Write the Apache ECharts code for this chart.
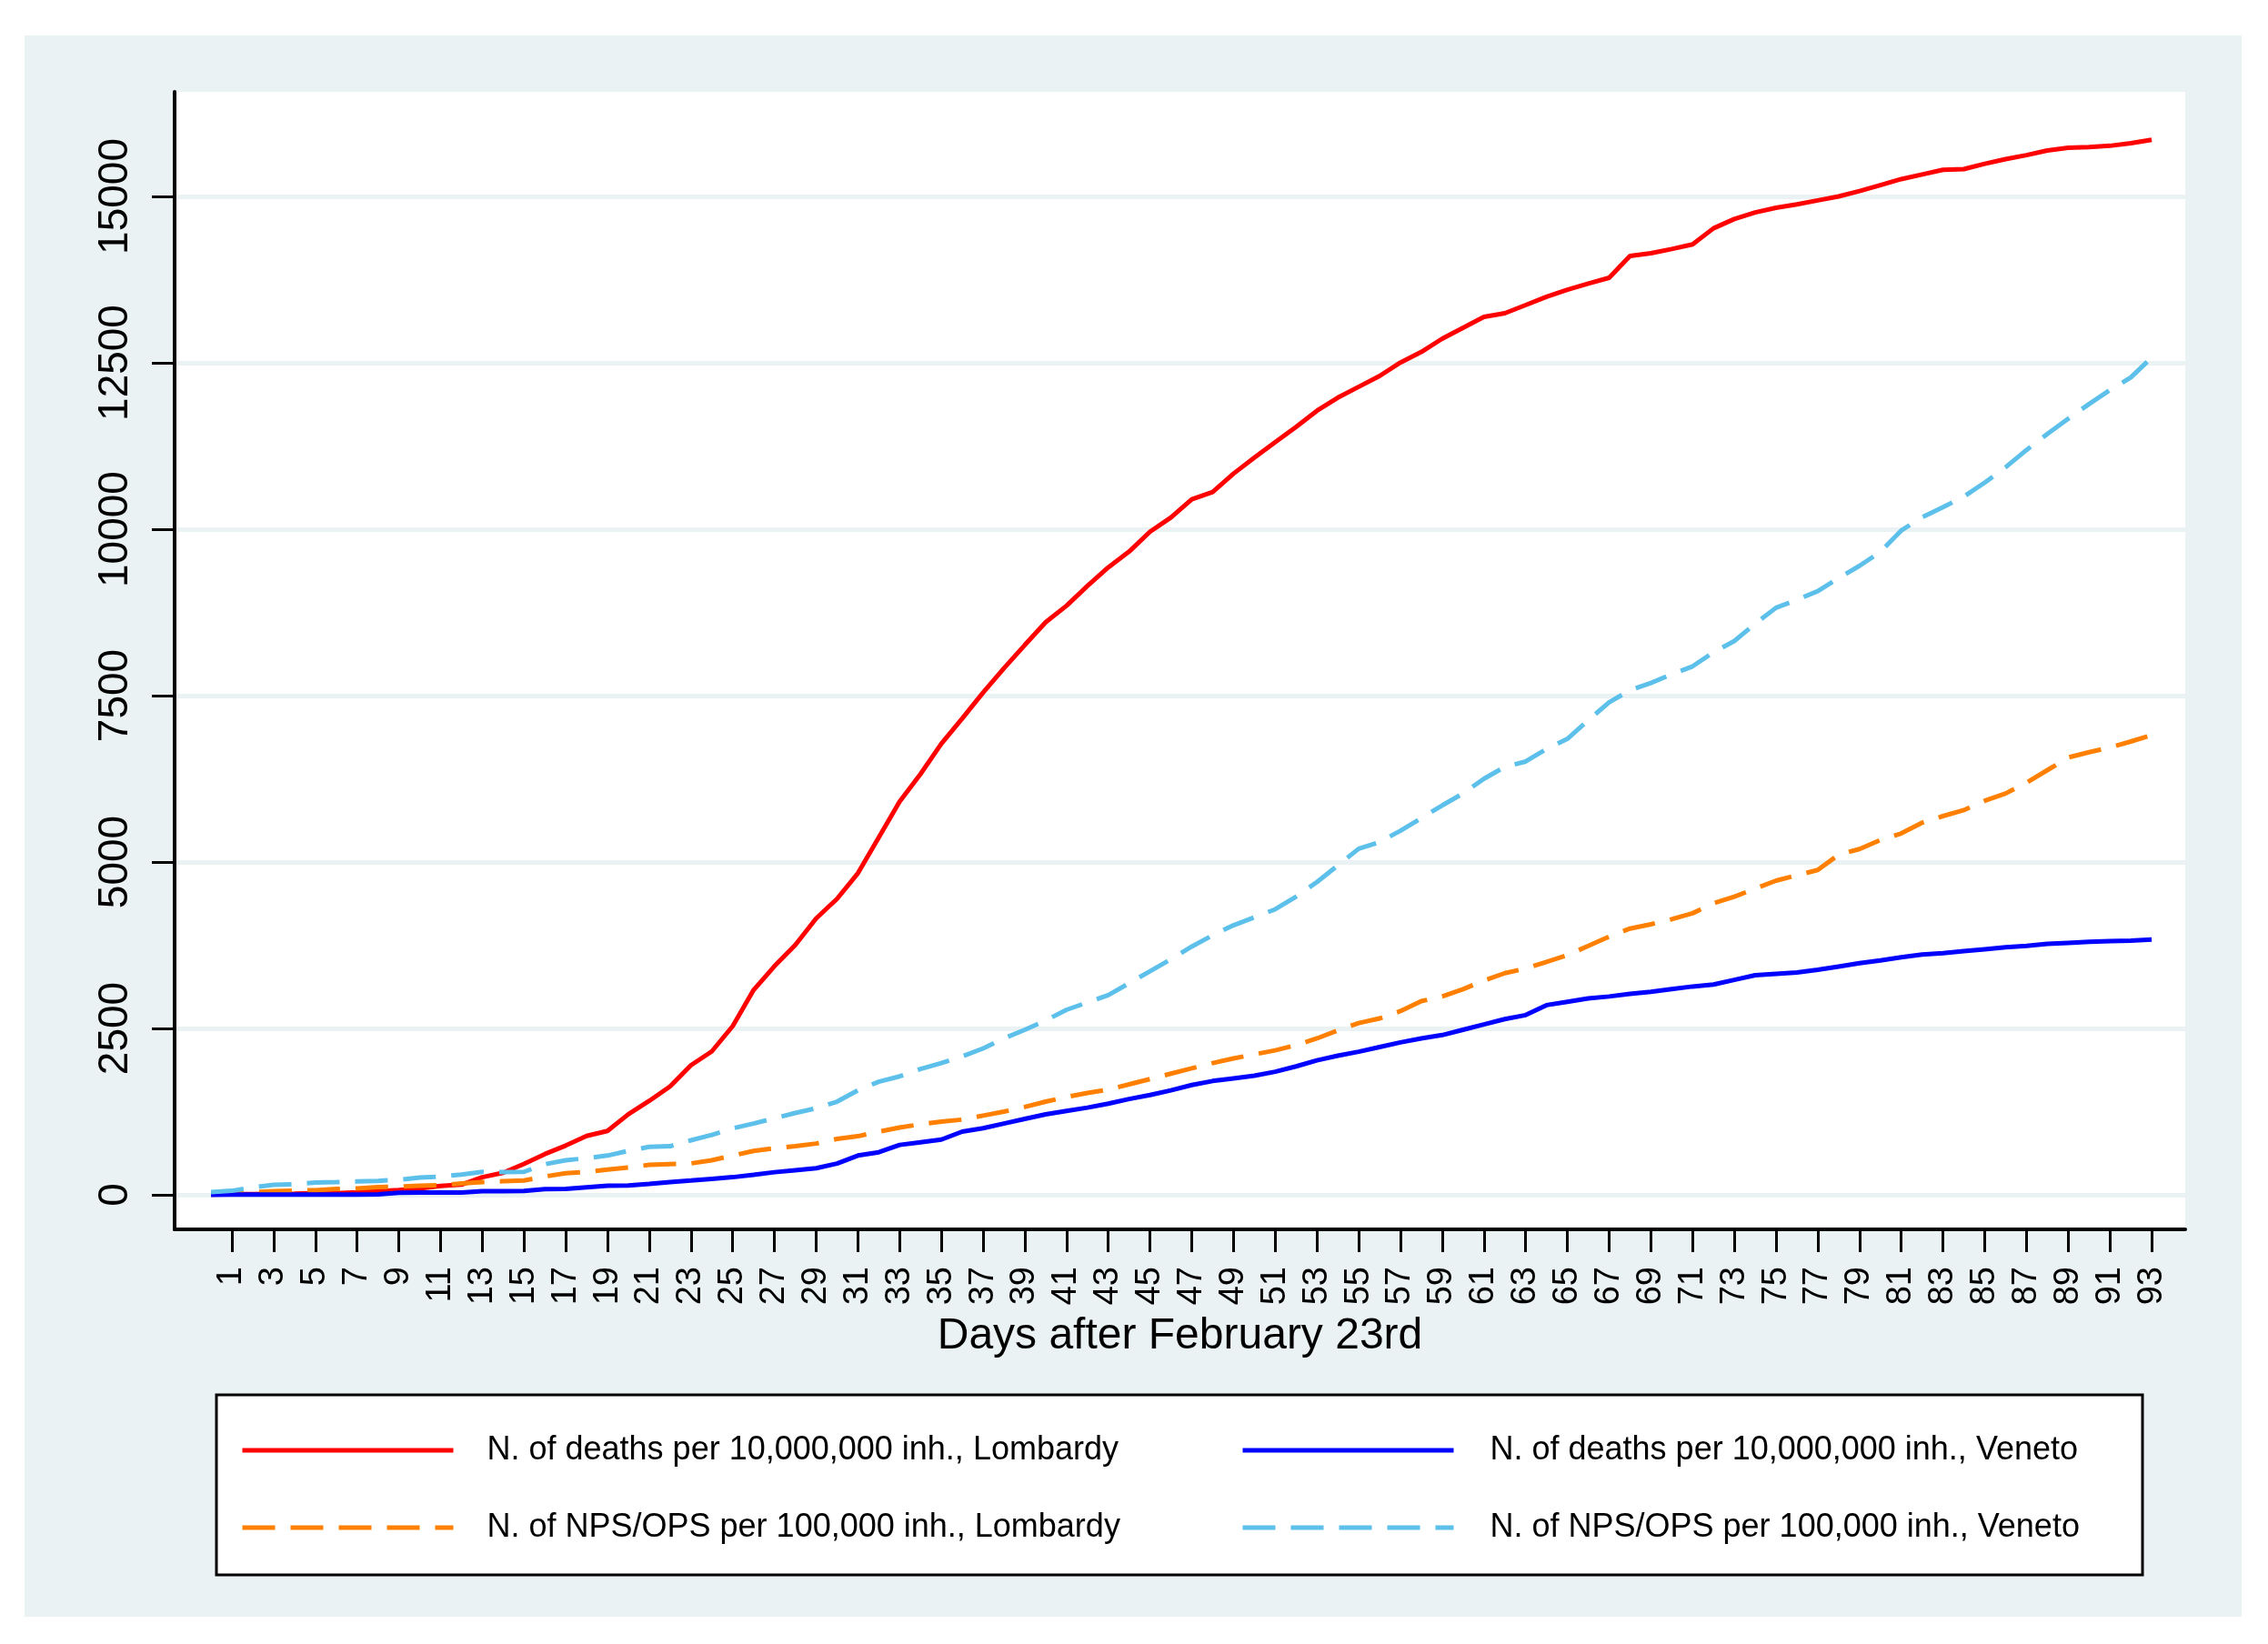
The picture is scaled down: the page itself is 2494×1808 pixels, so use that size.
<!DOCTYPE html>
<html><head><meta charset="utf-8">
<script src="https://cdn.jsdelivr.net/npm/echarts@6/dist/echarts.min.js"></script>
<style>html,body{margin:0;padding:0;background:#fff}#c{width:2494px;height:1808px}</style>
</head><body><div id="c"></div>
<script>
const days = [0,1,2,3,4,5,6,7,8,9,10,11,12,13,14,15,16,17,18,19,20,21,22,23,24,25,26,27,28,29,30,31,32,33,34,35,36,37,38,39,40,41,42,43,44,45,46,47,48,49,50,51,52,53,54,55,56,57,58,59,60,61,62,63,64,65,66,67,68,69,70,71,72,73,74,75,76,77,78,79,80,81,82,83,84,85,86,87,88,89,90,91,92,93];

const deathsLombardy = [6,9,9,14,17,23,24,38,55,73,
 97,134,153,265,331,465,613,740,885,960,
 1211,1411,1630,1947,2155,2534,3076,3435,3753,4153,
 4447,4832,5370,5908,6322,6777,7156,7547,7912,8261,
 8604,8851,9147,9427,9664,9962,10176,10448,10557,10835,
 11075,11309,11538,11780,11977,12140,12302,12504,12663,12862,
 13027,13190,13245,13368,13493,13597,13689,13777,14104,14146,
 14209,14279,14520,14660,14760,14830,14880,14940,15000,15080,
 15170,15260,15330,15400,15410,15490,15560,15620,15690,15730,
 15740,15760,15800,15850];

const deathsVeneto = [0,2,2,2,4,4,4,4,6,30,
 33,33,35,56,56,58,87,90,114,137,
 140,164,191,215,240,265,300,340,370,400,
 470,590,640,750,790,830,950,1000,1070,1140,
 1210,1260,1310,1370,1440,1500,1570,1650,1710,1750,
 1790,1850,1930,2020,2090,2150,2220,2290,2350,2400,
 2480,2560,2640,2700,2850,2900,2950,2980,3020,3050,
 3090,3130,3160,3230,3300,3320,3340,3380,3430,3480,
 3520,3570,3610,3630,3660,3690,3720,3740,3770,3785,
 3800,3810,3820,3836];

const npsLombardy = [5,10,40,55,62,70,88,95,115,125,
 137,145,170,190,205,215,275,325,345,380,
 410,450,462,472,520,590,660,700,730,770,
 840,880,950,1010,1060,1100,1130,1190,1250,1320,
 1400,1470,1530,1580,1660,1740,1820,1900,1980,2050,
 2110,2170,2250,2350,2470,2580,2650,2760,2910,2980,
 3090,3220,3330,3400,3500,3600,3740,3880,4000,4065,
 4140,4230,4380,4480,4600,4720,4800,4880,5110,5195,
 5330,5430,5590,5690,5780,5920,6030,6190,6380,6570,
 6650,6720,6810,6907];

const npsVeneto = [40,60,110,150,160,185,190,200,210,225,
 260,275,305,345,342,345,460,520,550,590,
 660,720,730,820,900,1000,1070,1150,1230,1300,
 1400,1570,1700,1780,1890,1980,2080,2200,2350,2480,
 2620,2780,2890,3000,3180,3360,3540,3730,3900,4050,
 4170,4290,4480,4700,4950,5200,5300,5470,5660,5850,
 6030,6250,6430,6510,6700,6850,7130,7400,7580,7690,
 7820,7940,8150,8320,8580,8820,8940,9070,9264,9450,
 9660,9980,10180,10330,10490,10700,10930,11190,11430,11660,
 11880,12090,12280,12580];

const yTicks = [0,2500,5000,7500,10000,12500,15000];
const xTicks = [1,3,5,7,9,11,13,15,17,19,21,23,25,27,29,31,33,35,37,39,41,43,45,47,49,51,53,55,57,59,61,63,65,67,69,71,73,75,77,79,81,83,85,87,89,91,93];

const seriesNames = [
  'N. of deaths per 10,000,000 inh., Lombardy',
  'N. of deaths per 10,000,000 inh., Veneto',
  'N. of NPS/OPS per 100,000 inh., Lombardy',
  'N. of NPS/OPS per 100,000 inh., Veneto'
];
const xTitle = 'Days after February 23rd';

const F = "'Liberation Sans', Arial, sans-serif";
const FN = "'Liberation Sans Narrow', 'Liberation Sans', Arial, sans-serif";
const pts = arr => arr.map((v, i) => [days[i], v]);
const DASH = [36, 17];

function lineSeries(name, data, color, dashed) {
  return {
    name: name, type: 'line', data: pts(data), symbol: 'none', showSymbol: false,
    lineStyle: { color: color, width: 5, type: dashed ? DASH : 'solid', cap: 'butt' },
    itemStyle: { color: color },
    z: 3, silent: true
  };
}
function legendAt(name, left, top, pad, dashed) {
  return {
    data: [name], left: left, top: top, padding: 0, orient: 'horizontal',
    itemWidth: 232, itemHeight: 14, itemGap: 0, selectedMode: false,
    itemStyle: { color: 'rgba(0,0,0,0)', borderColor: 'rgba(0,0,0,0)', borderWidth: 0, opacity: 0 },
    lineStyle: { width: 5, type: dashed ? DASH : 'solid', cap: 'butt' },
    textStyle: { fontFamily: F, fontSize: 36, color: '#000', lineHeight: 40, padding: [0, 0, 0, pad] }
  };
}

const chart = echarts.init(document.getElementById('c'), null, { renderer: 'canvas' });
chart.setOption({
  animation: false,
  backgroundColor: '#ffffff',
  graphic: [
    { type: 'rect', z: -100, silent: true, shape: { x: 27, y: 39, width: 2438, height: 1739 }, style: { fill: '#eaf2f3' } },
    { type: 'rect', z: 1, silent: true, shape: { x: 238, y: 1534, width: 2118, height: 198 }, style: { fill: '#ffffff', stroke: '#000', lineWidth: 3 } }
  ],
  grid: { left: 192, top: 101, right: 91, bottom: 456, show: true, backgroundColor: '#ffffff', borderWidth: 0 },
  xAxis: {
    type: 'value', min: -1.746, max: 94.61,
    name: xTitle, nameLocation: 'middle', nameGap: 94,
    nameTextStyle: { fontFamily: F, fontSize: 48, color: '#000' },
    axisLine: { show: true, onZero: false, lineStyle: { color: '#000', width: 4 } },
    axisTick: { show: true, length: 25, lineStyle: { color: '#000', width: 3 }, customValues: xTicks },
    axisLabel: { show: true, rotate: 90, margin: 41, fontFamily: FN, fontSize: 38, color: '#000', customValues: xTicks, formatter: v => String(v) },
    splitLine: { show: false }
  },
  yAxis: {
    type: 'value', min: -519, max: 16571,
    axisLine: { show: true, onZero: false, lineStyle: { color: '#000', width: 4 } },
    axisTick: { show: true, length: 25, lineStyle: { color: '#000', width: 3 }, customValues: yTicks },
    axisLabel: { show: true, rotate: 90, margin: 42, fontFamily: F, fontSize: 46, color: '#000', customValues: yTicks, formatter: v => String(v) },
    splitLine: { show: true, lineStyle: { color: '#eaf2f3', width: 5 } }
  },
  legend: [
    legendAt(seriesNames[0], 264, 1575, 32, false),
    legendAt(seriesNames[1], 1364, 1575, 35, false),
    legendAt(seriesNames[2], 264, 1660, 32, true),
    legendAt(seriesNames[3], 1364, 1660, 35, true)
  ],
  series: [
    lineSeries(seriesNames[0], deathsLombardy, '#ff0000', false),
    lineSeries(seriesNames[2], npsLombardy, '#ff8000', true),
    lineSeries(seriesNames[1], deathsVeneto, '#0000ff', false),
    lineSeries(seriesNames[3], npsVeneto, '#5cc0ea', true)
  ]
});
</script></body></html>
